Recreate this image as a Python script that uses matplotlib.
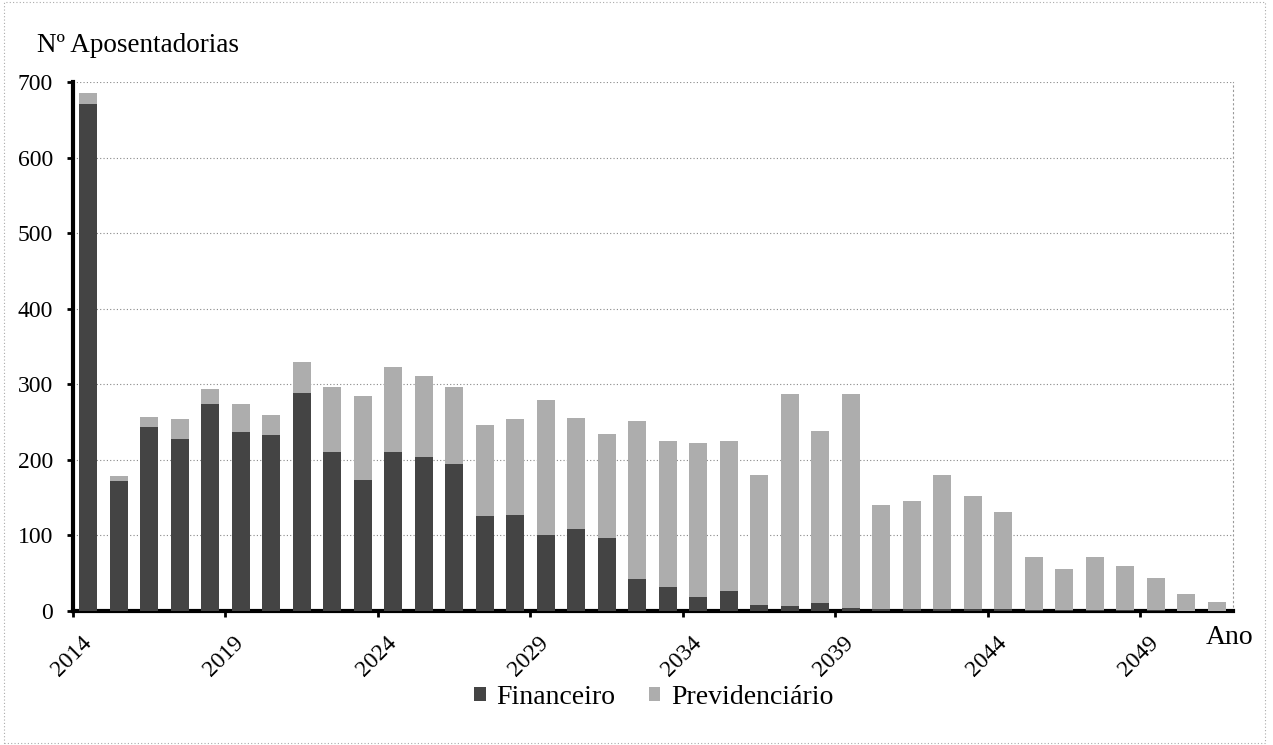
import matplotlib
matplotlib.use("Agg")
import matplotlib.pyplot as plt
from matplotlib.patches import Rectangle
import numpy as np

years = list(range(2014, 2052))
financeiro = [671, 172, 243, 228, 274, 237, 233, 288, 210, 174, 210, 204, 195,
              126, 127, 101, 109, 96, 42, 32, 19, 26, 8, 6, 10, 4,
              3, 3, 2, 2, 2, 1, 1, 1, 1, 1, 0, 0]
total = [685, 178, 257, 254, 294, 274, 260, 330, 296, 285, 323, 311, 297,
         246, 254, 279, 255, 234, 252, 225, 222, 225, 180, 287, 238, 287,
         140, 146, 180, 152, 131, 72, 55, 71, 59, 44, 22, 12]
previdenciario = [t - f for t, f in zip(total, financeiro)]
yticks = [0, 100, 200, 300, 400, 500, 600, 700]
xticks = [2014, 2019, 2024, 2029, 2034, 2039, 2044, 2049]

plt.rcParams['font.family'] = ['Liberation Serif', 'DejaVu Serif']

fig = plt.figure(figsize=(12.73, 7.45), dpi=100)
ax = fig.add_axes([73/1273, 1-611/745, (1233-73)/1273, (611-82)/745])

dark = '#444444'
light = '#adadad'
ax.bar(years, financeiro, width=0.59, color=dark, label='Financeiro', zorder=3)
ax.bar(years, previdenciario, width=0.59, bottom=financeiro, color=light,
       label='Previdenciário', zorder=3)

ax.set_xlim(2013.54, 2051.54)
ax.set_ylim(0, 700)
ax.set_yticks(yticks)
ax.set_yticklabels([str(v) for v in yticks], fontsize=17)
ax.set_xticks(xticks)
ax.set_xticklabels([str(v) for v in xticks], fontsize=17, rotation=45,
                   ha='right', va='center', rotation_mode='anchor')
# tick marks sit on category boundaries (every 5 categories)
ax.set_xticks([x - 0.5 for x in xticks], minor=True)
ax.tick_params(axis='x', which='minor', length=4, width=2, direction='out')
ax.tick_params(axis='x', which='major', length=0, pad=21)
ax.tick_params(axis='y', length=4.5, width=2, direction='out', pad=10)

ax.yaxis.grid(True, linestyle=(0, (1, 2)), color='#888888', linewidth=0.8, zorder=0)
ax.set_axisbelow(True)

ax.spines['left'].set_linewidth(3)
ax.spines['bottom'].set_linewidth(3)
ax.spines['top'].set_visible(False)
ax.spines['right'].set_linestyle((0, (1, 3)))
ax.spines['right'].set_color('#999999')
ax.spines['right'].set_linewidth(0.8)

fig.text(37/1273, 1-45/745, 'Nº Aposentadorias', fontsize=19.5, ha='left', va='center')
fig.text(1206/1273, 1-637/745, 'Ano', fontsize=20, ha='left', va='center')

leg = fig.legend(loc='center', bbox_to_anchor=(654/1273, 1-697/745), ncol=2,
                 frameon=False, fontsize=20, handlelength=0.4, handleheight=0.4,
                 handletextpad=0.4, columnspacing=1.2)

fig.patches.append(Rectangle((0.003, 0.003), 0.991, 0.994, transform=fig.transFigure,
                             fill=False, edgecolor='#aaaaaa', linestyle=(0, (1, 2)),
                             linewidth=0.8))

fig.savefig('out.png', dpi=100)
